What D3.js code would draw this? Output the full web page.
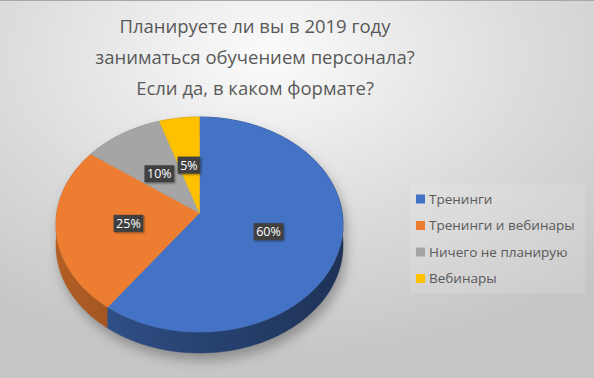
<!DOCTYPE html>
<html><head><meta charset="utf-8">
<script src="https://cdn.jsdelivr.net/npm/d3@7"></script>
<style>html,body{margin:0;padding:0;overflow:hidden;background:#fff}</style>
</head><body>
<svg id="chart" width="594" height="378"></svg>
<script>
const titleLines = ["Планируете ли вы в 2019 году", "заниматься обучением персонала?", "Если да, в каком формате?"];
const categories = ["Тренинги", "Тренинги и вебинары", "Ничего не планирую", "Вебинары"];
const values = [60, 25, 10, 5];
const labels = ["60%", "25%", "10%", "5%"];
const colors = ["#4472c4", "#ed7d31", "#a5a5a5", "#ffc000"];

const W = 594, H = 378;
const svg = d3.select("#chart");
const defs = svg.append("defs");
const font = "'Open Sans', 'DejaVu Sans', sans-serif";

// background
const bg = defs.append("radialGradient").attr("id", "bg").attr("cx", "45%").attr("cy", "15%").attr("r", "80%");
bg.append("stop").attr("offset", "0%").attr("stop-color", "#fbfbfb");
bg.append("stop").attr("offset", "55%").attr("stop-color", "#dcdcdc");
bg.append("stop").attr("offset", "100%").attr("stop-color", "#c6c6c6");
svg.append("rect").attr("width", W).attr("height", H).attr("fill", "url(#bg)");
svg.append("line").attr("x1", 0).attr("x2", W).attr("y1", 0.5).attr("y2", 0.5).attr("stroke", "#a8a8a8");

// title
svg.append("g").selectAll("text").data(titleLines).join("text")
  .attr("x", 255).attr("y", (d, i) => 33 + i * 31)
  .attr("text-anchor", "middle").attr("font-family", font).attr("font-size", 18.5)
  .attr("fill", "#595959").text(d => d);

// pie geometry with simple perspective
const cx = 199.5, cy = 213, A = 142.7, B = 106.3, k = 0.107, depth = 21;
function proj(theta, r) {
  const u = r * Math.sin(theta), v = -r * Math.cos(theta);
  const w = 1 - k * v;
  return [cx + A * u / w, cy + B * v / w];
}
const pie = d3.pie().sort(null).value(d => d)(values);
const line = d3.line();
function arcPts(a0, a1, r, dy) {
  const n = Math.max(4, Math.ceil((a1 - a0) / 0.02));
  const pts = [];
  for (let i = 0; i <= n; i++) {
    const p = proj(a0 + (a1 - a0) * i / n, r);
    pts.push([p[0], p[1] + dy]);
  }
  return pts;
}

// shadow
const blur = defs.append("filter").attr("id", "blur").attr("x", "-30%").attr("y", "-30%").attr("width", "160%").attr("height", "160%");
blur.append("feGaussianBlur").attr("stdDeviation", 6);
const full = arcPts(0, 2 * Math.PI, 1, 0);
const fullBot = arcPts(0, 2 * Math.PI, 1, depth);
svg.append("g").attr("filter", "url(#blur)").attr("opacity", 0.5)
  .attr("transform", "translate(3,7)")
  .selectAll("path").data([full, fullBot]).join("path")
  .attr("d", d => line(d) + "Z").attr("fill", "#555");

// side walls gradients
pie.forEach((s, i) => {
  const c = d3.color(colors[i]);
  const g = defs.append("linearGradient").attr("id", "side" + i)
    .attr("gradientUnits", "userSpaceOnUse").attr("x1", cx - A).attr("x2", cx + A).attr("y1", 0).attr("y2", 0);
  g.append("stop").attr("offset", "0%").attr("stop-color", c.darker(0.8));
  g.append("stop").attr("offset", "35%").attr("stop-color", c.darker(1.3));
  g.append("stop").attr("offset", "100%").attr("stop-color", c.darker(2.3));
});
const order = pie.map((s, i) => i).sort((a, b) => {
  const near = s => { const m = Math.min(Math.max(Math.PI, s.startAngle), s.endAngle); return -Math.cos(m); };
  return near(pie[a]) - near(pie[b]);
});
const walls = svg.append("g");
order.forEach(i => {
  const s = pie[i];
  const top = arcPts(s.startAngle, s.endAngle, 1, 0);
  const bot = arcPts(s.startAngle, s.endAngle, 1, depth).reverse();
  walls.append("path").attr("d", line(top.concat(bot)) + "Z")
    .attr("fill", "url(#side" + i + ")").attr("stroke", "url(#side" + i + ")").attr("stroke-width", 0.5);
});

// top faces
svg.append("g").selectAll("path").data(pie).join("path")
  .attr("d", s => line([proj(0, 0)].concat(arcPts(s.startAngle, s.endAngle, 1, 0))) + "Z")
  .attr("fill", (s, i) => colors[i]).attr("stroke", (s, i) => colors[i]).attr("stroke-width", 0.5);

// data labels
const lshadow = defs.append("filter").attr("id", "lsh").attr("x", "-30%").attr("y", "-30%").attr("width", "160%").attr("height", "160%");
lshadow.append("feDropShadow").attr("dx", 1).attr("dy", 1).attr("stdDeviation", 1.2).attr("flood-color", "#000").attr("flood-opacity", 0.45);
const lg = svg.append("g");
pie.forEach((s, i) => {
  const p = proj((s.startAngle + s.endAngle) / 2, 0.5);
  const g = lg.append("g").attr("transform", `translate(${p[0]},${p[1] + 2})`);
  const rect = g.append("rect").attr("fill", "#3f3f3f").attr("filter", "url(#lsh)");
  const t = g.append("text").attr("text-anchor", "middle").attr("dy", "0.35em")
    .attr("font-family", font).attr("font-size", 12.5).attr("fill", "#fff").text(labels[i]);
  const w = t.node().getComputedTextLength() + 5;
  rect.attr("x", -w / 2).attr("y", -8.5).attr("width", w).attr("height", 17);
});

// legend
svg.append("rect").attr("x", 410).attr("y", 185).attr("width", 175).attr("height", 108)
  .attr("fill", "#fff").attr("opacity", 0.12);
const leg = svg.append("g").selectAll("g").data(categories).join("g")
  .attr("transform", (d, i) => `translate(416,${199 + i * 26.5})`);
leg.append("rect").attr("x", 0).attr("y", -4.5).attr("width", 9).attr("height", 9).attr("fill", (d, i) => colors[i]);
leg.append("text").attr("x", 13).attr("dy", "0.35em").attr("font-family", font).attr("font-size", 13.5)
  .attr("fill", "#595959").text(d => d);
</script>
</body></html>
